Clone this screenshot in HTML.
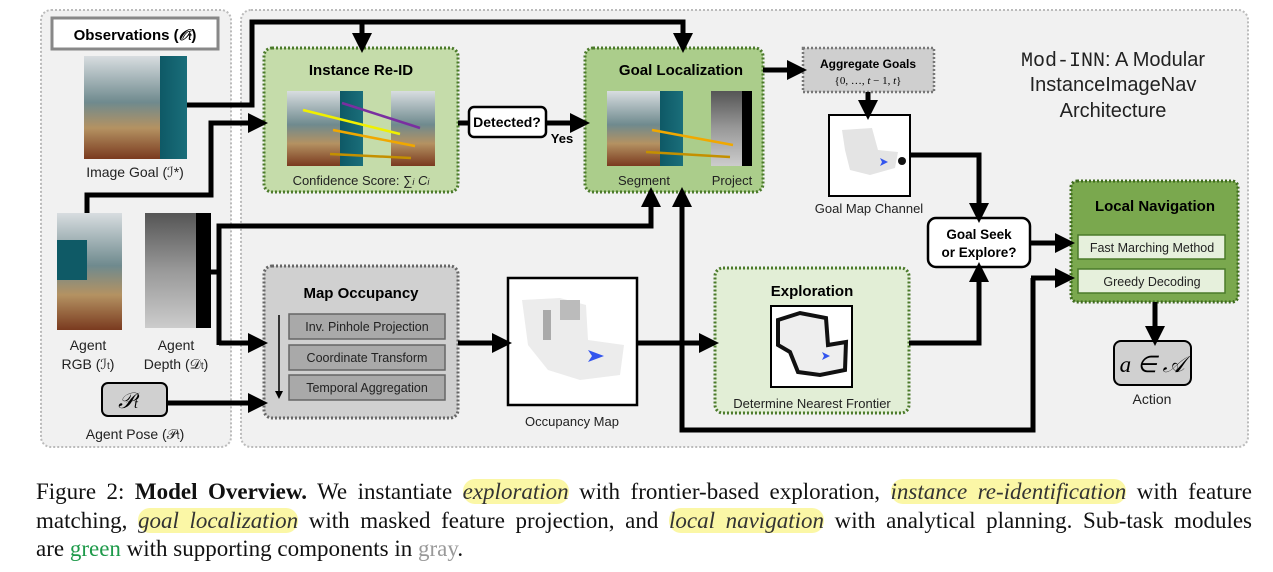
<!DOCTYPE html>
<html><head><meta charset="utf-8"><style>
html,body{margin:0;padding:0;background:#fff;width:1273px;height:572px;overflow:hidden}
svg{position:absolute;left:0;top:0}
.cap{position:absolute;left:36px;width:1216px;font-family:"Liberation Serif",serif;font-size:23px;color:#111;text-align:justify;text-align-last:justify;white-space:nowrap;line-height:28px}
.cap.last{text-align-last:left}
.hl{background:#fbf7a6;border-radius:12px;font-style:italic;color:#333}
</style></head><body>
<svg width="1273" height="460" viewBox="0 0 1273 460" font-family="Liberation Sans, DejaVu Sans, sans-serif">
<defs>
<marker id="a" markerWidth="4" markerHeight="4" refX="2.2" refY="2" orient="auto" markerUnits="strokeWidth"><path d="M0,0 L4,2 L0,4 z" fill="#000"/></marker>
<linearGradient id="room" x1="0" y1="0" x2="0" y2="1"><stop offset="0" stop-color="#d8dde0"/><stop offset="0.45" stop-color="#6f8a8e"/><stop offset="0.7" stop-color="#b49262"/><stop offset="1" stop-color="#7a3a1f"/></linearGradient>
<linearGradient id="teal" x1="0" y1="0" x2="1" y2="0"><stop offset="0" stop-color="#0e5966"/><stop offset="1" stop-color="#1a6e7a"/></linearGradient>
<linearGradient id="depth" x1="0" y1="0" x2="0" y2="1"><stop offset="0" stop-color="#555"/><stop offset="0.5" stop-color="#999"/><stop offset="1" stop-color="#ccc"/></linearGradient>
</defs>
<rect x="41" y="10" width="190" height="437" rx="10" fill="#f1f1f1" stroke="#bbb" stroke-width="2" stroke-dasharray="2,2"/>
<rect x="241" y="10" width="1007" height="437" rx="10" fill="#f1f1f1" stroke="#bbb" stroke-width="2" stroke-dasharray="2,2"/>
<rect x="52" y="18" width="166" height="31" fill="#fff" stroke="#888" stroke-width="3"/>
<text x="135" y="40" text-anchor="middle" font-size="15" font-weight="bold">Observations (<tspan font-style="italic">𝒪</tspan><tspan font-size="10" font-style="italic">t</tspan>)</text>
<rect x="84" y="56" width="103" height="103" fill="url(#room)"/><rect x="160" y="56" width="27" height="103" fill="url(#teal)"/>
<text x="135" y="177" text-anchor="middle" font-size="14" fill="#222">Image Goal (ℐ*)</text>
<rect x="57" y="213" width="65" height="117" fill="url(#room)"/><rect x="57" y="240" width="30" height="40" fill="#0f5a66"/>
<rect x="145" y="213" width="66" height="115" fill="url(#depth)"/><rect x="196" y="213" width="15" height="115" fill="#000"/>
<text x="88" y="350" text-anchor="middle" font-size="14" fill="#222">Agent</text>
<text x="88" y="369" text-anchor="middle" font-size="14" fill="#222">RGB (ℐ<tspan font-size="10">t</tspan>)</text>
<text x="176" y="350" text-anchor="middle" font-size="14" fill="#222">Agent</text>
<text x="176" y="369" text-anchor="middle" font-size="14" fill="#222">Depth (𝒟<tspan font-size="10">t</tspan>)</text>
<rect x="102" y="383" width="65" height="33" rx="6" fill="#d0d0d0" stroke="#000" stroke-width="2"/>
<text x="128" y="408" text-anchor="middle" font-size="22" font-family="Liberation Serif,serif" font-style="italic">𝒫<tspan font-size="14">t</tspan></text>
<text x="135" y="439" text-anchor="middle" font-size="14" fill="#222">Agent Pose (𝒫<tspan font-size="10">t</tspan>)</text>

<rect x="264" y="48" width="194" height="144" rx="8" fill="#c5dcaa" stroke="#4b7a2a" stroke-width="3" stroke-dasharray="2,2"/>
<text x="361" y="75" text-anchor="middle" font-size="15" font-weight="bold">Instance Re-ID</text>
<rect x="287" y="91" width="76" height="75" fill="url(#room)"/><rect x="340" y="91" width="23" height="75" fill="url(#teal)"/>
<rect x="391" y="91" width="44" height="75" fill="url(#room)"/>
<line x1="342" y1="103" x2="420" y2="128" stroke="#7a2fa0" stroke-width="2.5"/>
<line x1="303" y1="110" x2="400" y2="134" stroke="#f0f000" stroke-width="2.5"/>
<line x1="333" y1="130" x2="415" y2="146" stroke="#f0a800" stroke-width="2.5"/>
<line x1="330" y1="154" x2="411" y2="158" stroke="#c49000" stroke-width="2.5"/>
<text x="361" y="185" text-anchor="middle" font-size="13" fill="#222">Confidence Score: ∑<tspan font-size="9" font-style="italic">i</tspan> <tspan font-style="italic">C<tspan font-size="9">i</tspan></tspan></text>
<rect x="469" y="107" width="77" height="30" rx="5" fill="#fff" stroke="#000" stroke-width="2.5"/>
<text x="507" y="127" text-anchor="middle" font-size="14" font-weight="bold">Detected?</text>
<text x="562" y="143" text-anchor="middle" font-size="13" font-weight="bold">Yes</text>
<rect x="585" y="48" width="178" height="144" rx="8" fill="#abcd8b" stroke="#4b7a2a" stroke-width="3" stroke-dasharray="2,2"/>
<text x="681" y="75" text-anchor="middle" font-size="15" font-weight="bold">Goal Localization</text>
<rect x="607" y="91" width="76" height="75" fill="url(#room)"/><rect x="660" y="91" width="23" height="75" fill="url(#teal)"/>
<rect x="711" y="91" width="41" height="75" fill="url(#depth)"/><rect x="742" y="91" width="10" height="75" fill="#000"/>
<line x1="652" y1="130" x2="733" y2="145" stroke="#f0a800" stroke-width="2.5"/>
<line x1="646" y1="152" x2="730" y2="157" stroke="#c49000" stroke-width="2.5"/>
<text x="644" y="185" text-anchor="middle" font-size="13" fill="#222">Segment</text>
<text x="732" y="185" text-anchor="middle" font-size="13" fill="#222">Project</text>
<rect x="803" y="48" width="131" height="44" fill="#cfcfcf" stroke="#777" stroke-width="2.5" stroke-dasharray="2,2"/>
<text x="868" y="68" text-anchor="middle" font-size="12" font-weight="bold">Aggregate Goals</text>
<text x="868" y="84" text-anchor="middle" font-size="11" font-family="Liberation Serif,serif">{0, …, <tspan font-style="italic">t</tspan> − 1, <tspan font-style="italic">t</tspan>}</text>
<rect x="829" y="115" width="81" height="81" fill="#fff" stroke="#000" stroke-width="2"/>
<path d="M842,130 L872,128 L878,150 L898,152 L895,168 L870,175 L850,170 L845,150 z" fill="#e4e4e4"/>
<path d="M880,158 l8,4 l-8,4 l2,-4z" fill="#3355ee"/><circle cx="902" cy="161" r="4" fill="#111"/>
<text x="869" y="213" text-anchor="middle" font-size="13" fill="#222">Goal Map Channel</text>
<text x="1113" y="66" text-anchor="middle" font-size="20" fill="#222"><tspan font-family="Liberation Mono,monospace">Mod-INN</tspan>: A Modular</text>
<text x="1113" y="91" text-anchor="middle" font-size="20" fill="#222">InstanceImageNav</text>
<text x="1113" y="117" text-anchor="middle" font-size="20" fill="#222">Architecture</text>
<rect x="928" y="218" width="102" height="49" rx="8" fill="#fff" stroke="#000" stroke-width="2.5"/>
<text x="979" y="239" text-anchor="middle" font-size="13.5" font-weight="bold">Goal Seek</text>
<text x="979" y="257" text-anchor="middle" font-size="13.5" font-weight="bold">or Explore?</text>
<rect x="1071" y="181" width="167" height="121" rx="6" fill="#7aa84e" stroke="#3f6b1f" stroke-width="3" stroke-dasharray="2,2"/>
<text x="1155" y="211" text-anchor="middle" font-size="15" font-weight="bold">Local Navigation</text>
<rect x="1078" y="235" width="147" height="24" fill="#e6f0dc" stroke="#4b7a2a" stroke-width="1.5"/>
<text x="1152" y="252" text-anchor="middle" font-size="12.5" fill="#222">Fast Marching Method</text>
<rect x="1078" y="269" width="147" height="24" fill="#e6f0dc" stroke="#4b7a2a" stroke-width="1.5"/>
<text x="1152" y="286" text-anchor="middle" font-size="12.5" fill="#222">Greedy Decoding</text>
<rect x="1114" y="341" width="77" height="44" rx="7" fill="#d0d0d0" stroke="#000" stroke-width="2"/>
<text x="1152" y="372" text-anchor="middle" font-size="23" font-family="Liberation Serif,serif" font-style="italic">a ∈ 𝒜</text>
<text x="1152" y="404" text-anchor="middle" font-size="14" fill="#222">Action</text>
<rect x="264" y="266" width="194" height="152" rx="8" fill="#d0d0d0" stroke="#666" stroke-width="3" stroke-dasharray="2,2"/>
<text x="361" y="298" text-anchor="middle" font-size="15" font-weight="bold">Map Occupancy</text>
<rect x="289" y="314" width="156" height="25" fill="#a9a9a9" stroke="#666" stroke-width="1.5"/>
<text x="367" y="331" text-anchor="middle" font-size="12.5" fill="#222">Inv. Pinhole Projection</text>
<rect x="289" y="345" width="156" height="25" fill="#a9a9a9" stroke="#666" stroke-width="1.5"/>
<text x="367" y="362" text-anchor="middle" font-size="12.5" fill="#222">Coordinate Transform</text>
<rect x="289" y="375" width="156" height="25" fill="#a9a9a9" stroke="#666" stroke-width="1.5"/>
<text x="367" y="392" text-anchor="middle" font-size="12.5" fill="#222">Temporal Aggregation</text>
<line x1="279" y1="315" x2="279" y2="392" stroke="#000" stroke-width="1.5"/><path d="M275,391 L283,391 L279,399 z" fill="#000"/>
<rect x="508" y="278" width="129" height="127" fill="#fff" stroke="#000" stroke-width="2.5"/>
<path d="M522,300 L560,298 L586,305 L588,340 L624,345 L620,375 L580,380 L548,370 L528,345 z" fill="#ececec"/>
<rect x="560" y="300" width="20" height="20" fill="#bbb"/><rect x="543" y="310" width="8" height="30" fill="#aaa"/>
<path d="M588,350 l16,6 l-16,6 l4,-6z" fill="#3355ee"/>
<text x="572" y="426" text-anchor="middle" font-size="13" fill="#222">Occupancy Map</text>
<rect x="715" y="268" width="194" height="145" rx="8" fill="#e2eed6" stroke="#4b7a2a" stroke-width="3" stroke-dasharray="2,2"/>
<text x="812" y="296" text-anchor="middle" font-size="15" font-weight="bold">Exploration</text>
<rect x="771" y="306" width="81" height="81" fill="#fff" stroke="#000" stroke-width="2"/>
<path d="M778,320 L800,313 L826,318 L828,345 L846,342 L845,370 L820,375 L798,372 L790,352 L778,345 z" fill="#eee" stroke="#111" stroke-width="4"/>
<path d="M822,352 l8,4 l-8,4 l2,-4z" fill="#3355ee"/>
<text x="812" y="408" text-anchor="middle" font-size="13" fill="#222">Determine Nearest Frontier</text>

<g fill="none" stroke="#000" stroke-width="5" stroke-linejoin="miter">
<polyline points="187,105 252,105 252,22 683,22 683,44" marker-end="url(#a)"/>
<polyline points="362,22 362,44" marker-end="url(#a)"/>
<polyline points="87,213 87,195 211,195 211,123 259,123" marker-end="url(#a)"/>
<polyline points="211,272 219,272"/>
<polyline points="219,345 219,226 651,226 651,196" marker-end="url(#a)"/>
<polyline points="219,343 259,343" marker-end="url(#a)"/>
<polyline points="167,403 259,403" marker-end="url(#a)"/>
<polyline points="458,123 469,123"/>
<polyline points="546,123 581,123" marker-end="url(#a)"/>
<polyline points="458,343 503,343" marker-end="url(#a)"/>
<polyline points="637,343 710,343" marker-end="url(#a)"/>
<polyline points="1033,278 1033,430 682,430 682,196" marker-end="url(#a)"/>
<polyline points="1031,278 1066,278" marker-end="url(#a)"/>
<polyline points="763,70 798,70" marker-end="url(#a)"/>
<polyline points="868,92 868,111" marker-end="url(#a)"/>
<polyline points="910,155 979,155 979,214" marker-end="url(#a)"/>
<polyline points="909,343 979,343 979,271" marker-end="url(#a)"/>
<polyline points="1030,243 1066,243" marker-end="url(#a)"/>
<polyline points="1155,302 1155,337" marker-end="url(#a)"/>
</g>
</svg>
<div class="cap" style="top:478px">Figure 2: <b>Model Overview.</b> We instantiate <span class="hl">exploration</span> with frontier-based exploration, <span class="hl">instance re-identification</span> with feature</div>
<div class="cap" style="top:507px">matching, <span class="hl">goal localization</span> with masked feature projection, and <span class="hl">local navigation</span> with analytical planning. Sub-task modules</div>
<div class="cap last" style="top:535px">are <span style="color:#1e9a4a">green</span> with supporting components in <span style="color:#999">gray</span>.</div>
</body></html>
